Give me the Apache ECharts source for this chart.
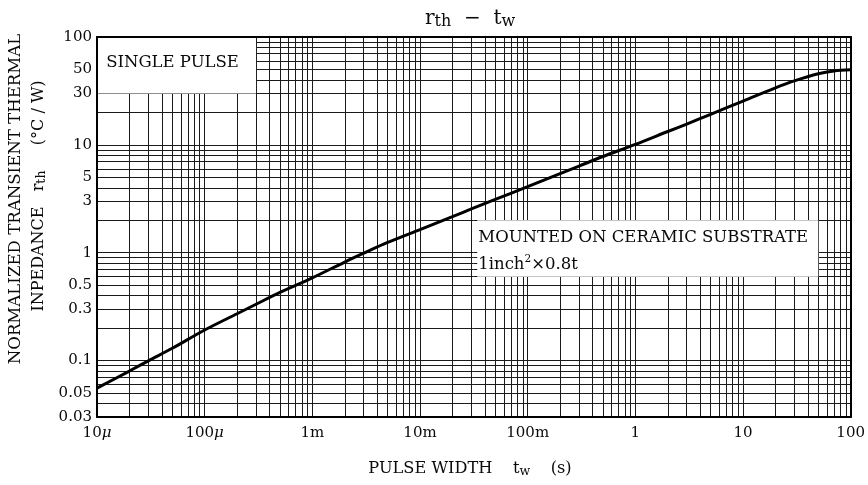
<!DOCTYPE html>
<html>
<head>
<meta charset="utf-8">
<script src="https://cdn.jsdelivr.net/npm/echarts@6/dist/echarts.min.js"></script>
<style>
  html, body { margin: 0; padding: 0; background: #fff; }
  #chart { width: 868px; height: 485px; }
</style>
</head>
<body>
<div id="chart"></div>
<script>
// Single-pulse transient thermal impedance curve: pulse width tw (s) vs rth (°C/W)
const pulseWidth = [1e-5, 2e-5, 3e-5, 5e-5, 1e-4, 2e-4, 3e-4, 5e-4, 1e-3, 2e-3, 3e-3, 5e-3,
                    1e-2, 2e-2, 3e-2, 5e-2, 0.1, 0.2, 0.3, 0.5, 1, 2, 3, 5, 10, 20, 30, 50, 70, 100];
const rth = [0.0555, 0.080, 0.0995, 0.130, 0.192, 0.272, 0.333, 0.429, 0.585, 0.82, 0.99, 1.245,
             1.64, 2.16, 2.55, 3.12, 4.1, 5.41, 6.36, 7.8, 10.1, 13.3, 15.6, 19.2, 25.5, 33.8, 39.2, 45.6, 48.4, 49.6];

// Axis tick labels
const xTickValues = [1e-5, 1e-4, 1e-3, 1e-2, 1e-1, 1, 10, 100];
const xTickLabels = ['10{mu|μ}', '100{mu|μ}', '1m', '10m', '100m', '1', '10', '100'];
const yTickValues = [0.03, 0.05, 0.1, 0.3, 0.5, 1, 3, 5, 10, 30, 50, 100];
const yTickLabels = ['0.03', '0.05', '0.1', '0.3', '0.5', '1', '3', '5', '10', '30', '50', '100'];

// Log-paper grid: 1..9 within each decade
const gridSteps = [1, 2, 3, 4, 5, 6, 7, 8, 9];
const xDecades = [1e-5, 1e-4, 1e-3, 1e-2, 1e-1, 1, 10, 100];
const yDecades = [0.01, 0.1, 1, 10, 100];
const X_MIN = 1e-5, X_MAX = 100, Y_MIN = 0.03, Y_MAX = 100;

function gridValues(decades, lo, hi) {
  const out = [];
  decades.forEach(d => gridSteps.forEach(s => {
    const v = Number((d * s).toPrecision(6));
    if (v >= lo * 0.999 && v <= hi * 1.001 && out.indexOf(v) < 0) out.push(v);
  }));
  return out;
}
const xGridValues = gridValues(xDecades, X_MIN, X_MAX);
const yGridValues = gridValues(yDecades, Y_MIN, Y_MAX);

function lookup(values, labels) {
  return function (v) {
    for (let i = 0; i < values.length; i++) {
      if (Math.abs(Math.log10(v) - Math.log10(values[i])) < 1e-6) return labels[i];
    }
    return '';
  };
}

const SERIF = '"DejaVu Serif", "Liberation Serif", serif';
const INK = '#0a0a0a';
const GRID_LINE = { lineStyle: { color: '#1a1a1a', width: 1 } };

const chart = echarts.init(document.getElementById('chart'), null, { renderer: 'canvas' });

const option = {
  animation: false,
  backgroundColor: '#fff',
  textStyle: { fontFamily: SERIF, color: INK },
  grid: { left: 97, right: 17, top: 37, bottom: 68, containLabel: false },
  xAxis: [
    {
      type: 'log', logBase: 10, min: X_MIN, max: X_MAX, position: 'bottom', z: 0,
      axisLine: { show: true, lineStyle: { color: '#000', width: 2 } },
      axisTick: { show: false, customValues: xGridValues },
      splitLine: Object.assign({ show: true }, GRID_LINE),
      minorTick: { show: false }, minorSplitLine: { show: false },
      axisLabel: {
        customValues: xTickValues,
        formatter: lookup(xTickValues, xTickLabels),
        margin: 9, fontSize: 15, fontFamily: SERIF, color: INK,
        rich: { mu: { fontSize: 15, fontFamily: SERIF, fontStyle: 'italic', color: INK } }
      }
    },
    {
      type: 'log', logBase: 10, min: X_MIN, max: X_MAX, position: 'top', z: 10,
      axisLine: { show: true, lineStyle: { color: '#000', width: 2 } },
      axisTick: { show: false }, axisLabel: { show: false }, splitLine: { show: false }
    }
  ],
  yAxis: [
    {
      type: 'log', logBase: 10, min: Y_MIN, max: Y_MAX, position: 'left', z: 10,
      axisLine: { show: true, lineStyle: { color: '#000', width: 2 } },
      axisTick: { show: false }, splitLine: { show: false },
      axisLabel: {
        customValues: yTickValues,
        formatter: lookup(yTickValues, yTickLabels),
        margin: 5, fontSize: 15, fontFamily: SERIF, color: INK
      }
    },
    {
      type: 'log', logBase: 10, min: Y_MIN, max: Y_MAX, position: 'right', z: 0,
      axisLine: { show: true, lineStyle: { color: '#000', width: 2 } },
      axisTick: { show: false, customValues: yGridValues },
      axisLabel: { show: false },
      splitLine: Object.assign({ show: true }, GRID_LINE)
    }
  ],
  series: [
    {
      type: 'line',
      xAxisIndex: 0, yAxisIndex: 0,
      data: pulseWidth.map((t, i) => [t, rth[i]]),
      showSymbol: false, smooth: 0.3, z: 5,
      lineStyle: { color: '#000', width: 3 },
      markArea: {
        silent: true,
        itemStyle: { color: '#fff', borderWidth: 0 },
        label: { color: INK, fontFamily: SERIF },
        data: [
          [
            {
              coord: [1e-5, 30],
              label: { show: true, position: 'inside', fontSize: 16.5, formatter: 'SINGLE PULSE', offset: [-4, -2] }
            },
            { coord: [3e-4, 100] }
          ],
          [
            {
              coord: [0.034, 0.6],
              label: {
                show: true, position: 'insideLeft', distance: 1, offset: [0, 3],
                formatter: '{a|MOUNTED ON CERAMIC SUBSTRATE}\n{a|1inch}{sup|2}{a|×0.8t}',
                rich: {
                  a: { fontSize: 16.5, fontFamily: SERIF, color: INK, lineHeight: 27 },
                  sup: { fontSize: 10.5, fontFamily: SERIF, color: INK, lineHeight: 27, padding: [0, 0, 11, 0] }
                }
              }
            },
            { coord: [50, 2] }
          ]
        ]
      }
    }
  ],
  graphic: [
    {
      type: 'text', x: 470, y: 19, z: 20,
      style: {
        text: '{n|r}{s|th}{n|  −  t}{s|w}',
        align: 'center', verticalAlign: 'middle',
        rich: {
          n: { font: '20px "DejaVu Serif"', fill: INK },
          s: { font: '16px "DejaVu Serif"', fill: INK, padding: [6, 0, 0, 0] }
        }
      }
    },
    {
      type: 'text', x: 16, y: 199, rotation: Math.PI / 2, z: 20,
      style: {
        text: 'NORMALIZED TRANSIENT THERMAL',
        font: '16.6px "DejaVu Serif"', fill: INK,
        align: 'center', verticalAlign: 'middle'
      }
    },
    {
      type: 'text', x: 39, y: 196, rotation: Math.PI / 2, z: 20,
      style: {
        text: '{n|INPEDANCE   r}{s|th}{n|     (°C / W)}',
        align: 'center', verticalAlign: 'middle',
        rich: {
          n: { font: '16px "DejaVu Serif"', fill: INK },
          s: { font: '12.5px "DejaVu Serif"', fill: INK, padding: [5, 0, 0, 0] }
        }
      }
    },
    {
      type: 'text', x: 470, y: 469, z: 20,
      style: {
        text: '{n|PULSE WIDTH    t}{s|w}{n|    (s)}',
        align: 'center', verticalAlign: 'middle',
        rich: {
          n: { font: '16.2px "DejaVu Serif"', fill: INK },
          s: { font: '12.5px "DejaVu Serif"', fill: INK, padding: [6, 0, 0, 0] }
        }
      }
    }
  ]
};

chart.setOption(option);
</script>
</body>
</html>
